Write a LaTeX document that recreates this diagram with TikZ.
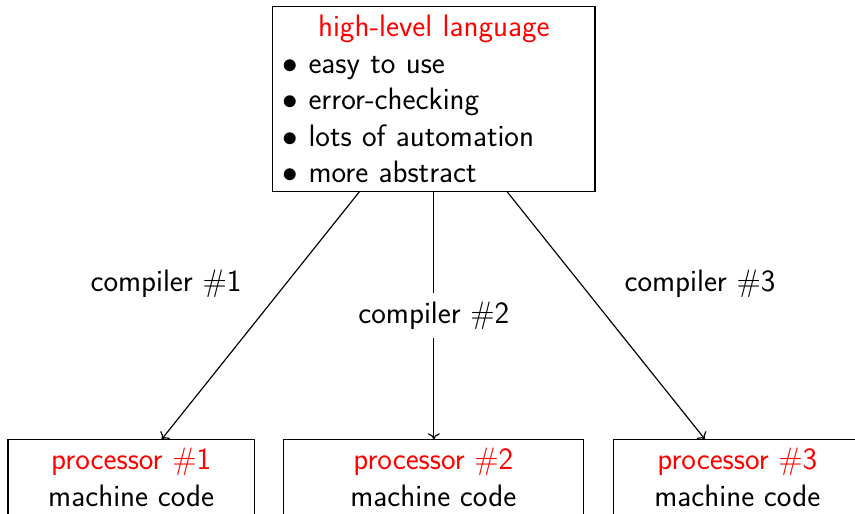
\RequirePackage{fix-cm}
\documentclass[tikz,border=0pt]{standalone}
\usepackage{fontspec}
\usetikzlibrary{arrows.meta}
\begin{document}
\tikzset{
  box/.style={draw, line width=1.16pt, inner xsep=10pt, inner ysep=8.5pt, anchor=north},
  conn/.style={-{To[length=6pt,width=12pt]}, line width=1.16pt},
  lbl/.style={inner xsep=10pt, inner ysep=9pt}
}
\begin{tikzpicture}[x=1pt, y=1pt, font=\sffamily\fontsize{31}{36.5}\selectfont]
\useasboundingbox (0,0) rectangle (855,514);
\node[box, minimum width=322.3pt, text width=302.3pt, align=left] (hll) at (433.85,508)
  {\noindent\hfill\textcolor{red}{high-level language}\hfill\null\\
   $\bullet$ easy to use\\
   $\bullet$ error-checking\\
   $\bullet$ lots of automation\\
   $\bullet$ more abstract};
\node[box, minimum width=246.3pt, align=center] (p1) at (131.2,74.7)
  {\textcolor{red}{processor \#1}\\machine code};
\node[box, minimum width=300pt, align=center] (p2) at (433.3,74.7)
  {\textcolor{red}{processor \#2}\\machine code};
\node[box, minimum width=248pt, align=center] (p3) at (737.3,74.7)
  {\textcolor{red}{processor \#3}\\machine code};
\draw[conn] ([xshift=-74.6pt]hll.south) -- ([xshift=30.5pt]p1.north);
\draw[conn] (hll.south) -- node[lbl, fill=white] (c2) {compiler \#2} (hll.south |- p2.north);
\draw[conn] ([xshift=73.4pt]hll.south) -- ([xshift=-32.3pt]p3.north);
\node[lbl, anchor=base] (c1) at (166,222.3) {compiler \#1};
\node[lbl, anchor=base] (c3) at (700,222.3) {compiler \#3};
\end{tikzpicture}
\end{document}
